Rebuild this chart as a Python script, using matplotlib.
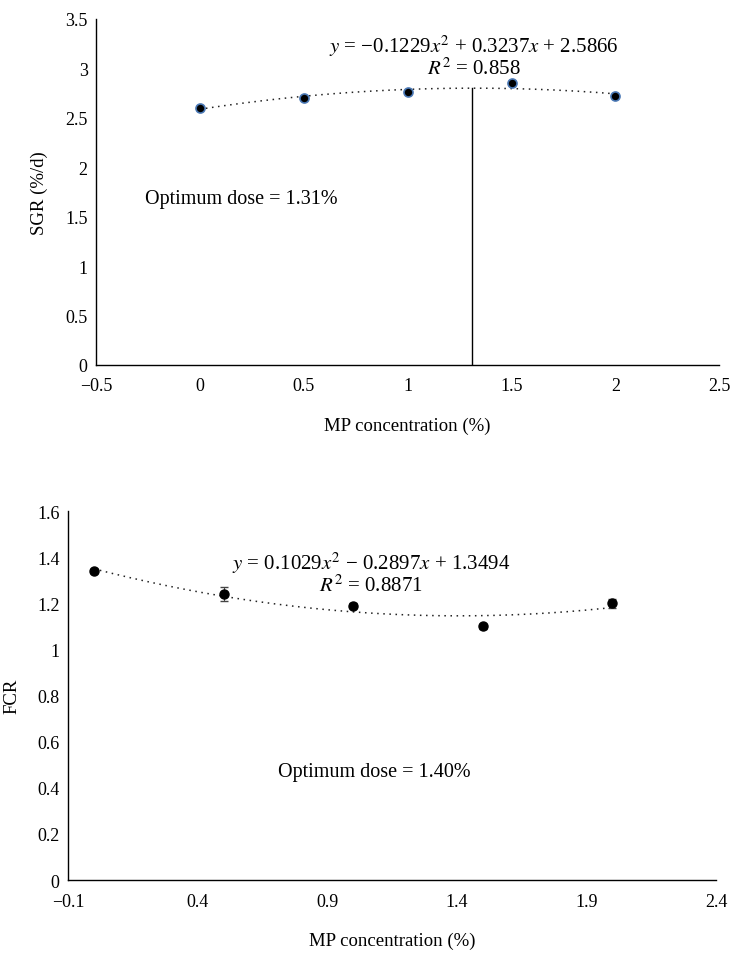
import numpy as np
import matplotlib
matplotlib.use('Agg')
import matplotlib.pyplot as plt

plt.rcParams['font.family'] = ['Liberation Serif', 'DejaVu Serif']
plt.rcParams['mathtext.fontset'] = 'stix'

# data
conc = [0, 0.5, 1.0, 1.5, 2.0]
sgr = [2.60, 2.70, 2.76, 2.85, 2.72]
sgr_err = [0.02, 0.02, 0.02, 0.02, 0.02]
fcr = [1.34, 1.24, 1.19, 1.10, 1.20]
fcr_err = [0.01, 0.03, 0.01, 0.01, 0.02]
sgr_fit = [-0.1229, 0.3237, 2.5866]
fcr_fit = [0.1029, -0.2897, 1.3494]
sgr_opt = 1.31

MINUS = '\u2212'

fig = plt.figure(figsize=(7.35, 9.54), dpi=100)
ax1 = fig.add_axes([0.1306, 0.6164, 0.848, 0.3627])
ax2 = fig.add_axes([0.0925, 0.0765, 0.8816, 0.3868])


def style(ax):
    for s in ['top', 'right']:
        ax.spines[s].set_visible(False)
    for s in ['left', 'bottom']:
        ax.spines[s].set_linewidth(1.0)
    ax.tick_params(length=0, labelsize=13)
    ax.tick_params(axis='x', pad=9)
    ax.tick_params(axis='y', pad=6)


xs = np.linspace(0, 2, 200)

# --- SGR
style(ax1)
ax1.plot(xs, np.polyval(sgr_fit, xs), linestyle=(0, (1, 3)), color='#222222', lw=1.1)
ax1.errorbar(conc, sgr, yerr=sgr_err, fmt='o', ms=6.5, mfc='black', mec='#4a78b5',
             mew=1.2, ecolor='#555555', elinewidth=0.8, capsize=2, zorder=3)
ax1.plot([sgr_opt, sgr_opt], [0, np.polyval(sgr_fit, sgr_opt)], color='black', lw=1.0)
ax1.set_xlim(-0.5, 2.5)
ax1.set_ylim(0, 3.5)
ax1.set_xticks([-0.5, 0, 0.5, 1, 1.5, 2, 2.5])
ax1.set_xticklabels([MINUS + '0.5', '0', '0.5', '1', '1.5', '2', '2.5'])
ax1.set_yticks([0, 0.5, 1, 1.5, 2, 2.5, 3, 3.5])
ax1.set_yticklabels(['0', '0.5', '1', '1.5', '2', '2.5', '3', '3.5'])
ax1.set_xlabel('MP concentration (%)', fontsize=13.5, labelpad=16)
ax1.set_ylabel('SGR (%/d)', fontsize=13.5, labelpad=12)
ax1.text(1.32, 3.23, '$y$ = ' + MINUS + '0.1229$x^2$ + 0.3237$x$ + 2.5866',
         fontsize=15, ha='center', va='center')
ax1.text(1.32, 3.0, '$R^2$ = 0.858', fontsize=15, ha='center', va='center')
ax1.text(0.2, 1.68, 'Optimum dose = 1.31%', fontsize=14.5, ha='center', va='center')

# --- FCR
style(ax2)
ax2.plot(xs, np.polyval(fcr_fit, xs), linestyle=(0, (1, 3)), color='#222222', lw=1.1)
ax2.errorbar(conc, fcr, yerr=fcr_err, fmt='o', ms=6.5, mfc='black', mec='black',
             ecolor='#444444', elinewidth=0.8, capsize=3, zorder=3)
ax2.set_xlim(-0.1, 2.4)
ax2.set_ylim(0, 1.6)
ax2.set_xticks([-0.1, 0.4, 0.9, 1.4, 1.9, 2.4])
ax2.set_xticklabels([MINUS + '0.1', '0.4', '0.9', '1.4', '1.9', '2.4'])
ax2.set_yticks([0, 0.2, 0.4, 0.6, 0.8, 1, 1.2, 1.4, 1.6])
ax2.set_yticklabels(['0', '0.2', '0.4', '0.6', '0.8', '1', '1.2', '1.4', '1.6'])
ax2.set_xlabel('MP concentration (%)', fontsize=13.5, labelpad=16)
ax2.set_ylabel('FCR', fontsize=13.5, labelpad=12)
ax2.text(1.07, 1.377, '$y$ = 0.1029$x^2$ ' + MINUS + ' 0.2897$x$ + 1.3494',
         fontsize=15, ha='center', va='center')
ax2.text(1.07, 1.277, '$R^2$ = 0.8871', fontsize=15, ha='center', va='center')
ax2.text(1.08, 0.47, 'Optimum dose = 1.40%', fontsize=14.5, ha='center', va='center')

fig.savefig('out.png', dpi=100, facecolor='white')
